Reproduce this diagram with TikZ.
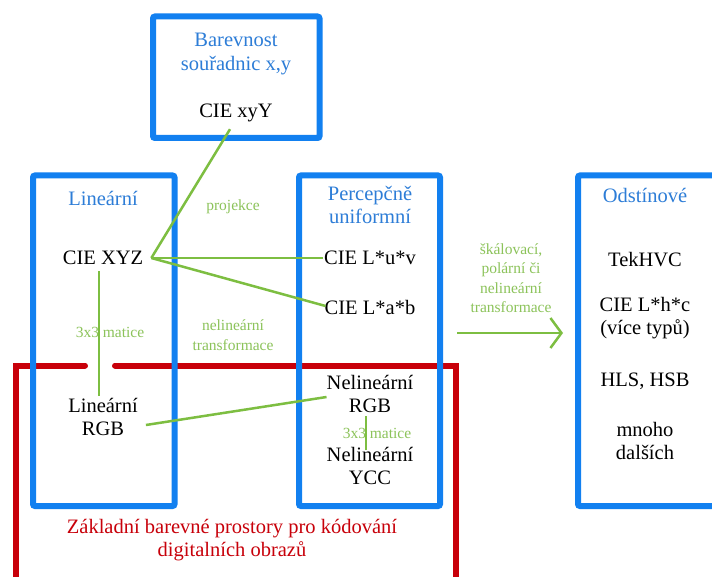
\documentclass[tikz,border=0pt]{standalone}
\usepackage{fontspec}
\setmainfont{Liberation Serif}
\usetikzlibrary{arrows.meta}
\definecolor{bx}{RGB}{18,128,240}
\definecolor{bt}{RGB}{45,125,215}
\definecolor{gl}{RGB}{125,190,65}
\definecolor{gt}{RGB}{140,195,90}
\definecolor{rd}{RGB}{200,0,10}
\begin{document}
\begin{tikzpicture}[x=1pt,y=-1pt,
  txt/.style={font=\fontsize{20.5}{23.5}\selectfont, align=center, inner sep=4pt},
  ttl/.style={txt, text=bt},
  lbl/.style={font=\fontsize{15.5}{20}\selectfont, align=center, text=gt, inner sep=1pt},
  frame/.style={draw=bx, line width=6pt, rounded corners=2pt, inner sep=0pt},
  conn/.style={draw=gl, line width=2.5pt},
  redline/.style={draw=rd, line width=6pt, line cap=round}]
\useasboundingbox (0,0) rectangle (712,577);
\clip (0,0) rectangle (712,577);
\fill[white] (0,0) rectangle (712,577);

% red frame
\draw[redline] (85,365.5) -- (16,365.5) -- (16,600);
\draw[redline] (115,365.5) -- (456,365.5) -- (456,600);

% blue frames
\node[frame, minimum width=166.5pt, minimum height=121.5pt] (fxyy) at (236.25,77.25) {};
\node[frame, minimum width=141.5pt, minimum height=330.5pt] (flin) at (103.75,340.75) {};
\node[frame, minimum width=141pt, minimum height=330.5pt] (fper) at (369.5,340.75) {};
\node[frame, minimum width=150pt, minimum height=330.5pt] (fods) at (653,340.75) {};

% top box
\node[ttl] (txyy) at (236,54) {Barevnost\\souřadnic x,y};
\node[txt] (xyy) at (236,113) {CIE xyY};

% linear
\node[ttl] (tlin) at (103,198) {Lineární};
\node[txt] (xyz) at (103,258) {CIE XYZ};
\node[txt] (lrgb) at (103,417) {Lineární\\RGB};

% perceptual
\node[ttl] (tper) at (370,205) {Percepčně\\uniformní};
\node[txt] (luv) at (370,258) {CIE L*u*v};
\node[txt] (lab) at (370,307) {CIE L*a*b};
\node[txt] (nrgb) at (370,394) {Nelineární\\RGB};
\node[txt] (nycc) at (370,466) {Nelineární\\YCC};

% hue
\node[ttl] (tods) at (645,195) {Odstínové};
\node[txt] (tek) at (645,260) {TekHVC};
\node[txt] (lhc) at (645,318) {CIE L*h*c\\(více typů)};
\node[txt] (hls) at (645,381) {HLS, HSB};
\node[txt] (mno) at (645,441) {mnoho\\dalších};

% red caption
\node[txt, text=rd] (cap) at (232,540) {Základní barevné prostory pro kódování\\digitalních obrazů};

% green labels
\node[lbl] (lproj) at (233,207) {projekce};
\node[lbl] (lnel) at (233,335) {nelineární\\transformace};
\node[lbl] (lm1) at (110,332) {3x3 matice};
\node[lbl] (lm2) at (377,433) {3x3 matice};
\node[lbl, font=\fontsize{15.5}{19.5}\selectfont] (lsk) at (511,278) {škálovací,\\polární či\\nelineární\\transformace};

% connectors
\draw[conn] ([xshift=4pt]xyz.east) -- ([xshift=-6pt,yshift=-3pt]xyy.south);
\draw[conn] ([xshift=4pt]xyz.east) -- ([xshift=3pt]luv.west);
\draw[conn] ([xshift=4pt]xyz.east) -- ([xshift=5pt,yshift=1pt]lab.west);
\draw[conn] ([xshift=-4pt,yshift=-2pt]xyz.south) -- ([xshift=-4pt,yshift=-2pt]lrgb.north);
\draw[conn] ([xshift=4pt,yshift=-8pt]lrgb.east) -- ([xshift=4pt,yshift=-3pt]nrgb.west);
\draw[conn] ([xshift=-4pt,yshift=1pt]nrgb.south) -- ([xshift=-4pt,yshift=-7pt]nycc.north);
\coordinate (a1) at (457,333);
\coordinate (a2) at (563,333);
\draw[conn, -{Straight Barb[length=11pt,width=30pt,line width=2.5pt]}] (a1) -- (a2);
\end{tikzpicture}
\end{document}
